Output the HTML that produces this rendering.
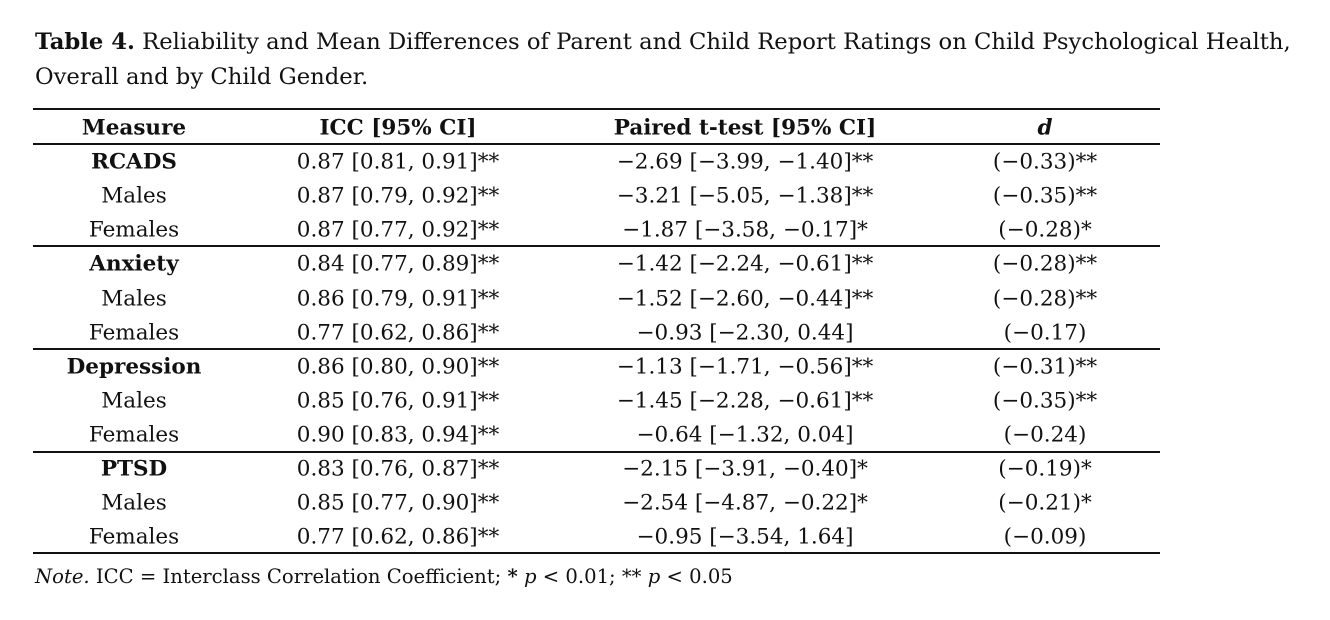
<!DOCTYPE html>
<html><head><meta charset="utf-8"><style>
body{margin:0;width:1330px;height:620px;background:#fff;font-family:"DejaVu Serif","Liberation Serif",serif;color:#111;position:relative;overflow:hidden}
.t{position:absolute;left:35px;font-size:22.7px;white-space:nowrap;line-height:1}
.l{position:absolute;left:33px;width:1127px;height:2px;background:#111}
.c{position:absolute;font-size:21.5px;white-space:nowrap;line-height:1;transform:translate(-50%,-50%)}
b{font-weight:bold}
</style></head><body>
<div class="t" style="top:31px"><b>Table 4.</b> Reliability and Mean Differences of Parent and Child Report Ratings on Child Psychological Health,</div>
<div class="t" style="top:66px">Overall and by Child Gender.</div>
<div class="l" style="top:108px"></div>
<div class="l" style="top:143px"></div>
<div class="l" style="top:245px"></div>
<div class="l" style="top:348px"></div>
<div class="l" style="top:451px"></div>
<div class="l" style="top:552px"></div>
<div class="t" style="top:567px;font-size:19.6px"><i>Note.</i> ICC = Interclass Correlation Coefficient; <b>*</b> <i>p</i> &lt; 0.01; ** <i>p</i> &lt; 0.05</div>
<div id="rows"></div>
<script>
const rows=[
["<b>Measure</b>","<b>ICC [95% CI]</b>","<b>Paired t-test [95% CI]</b>","<b><i>d</i></b>"],
["<b>RCADS</b>","0.87 [0.81, 0.91]**","−2.69 [−3.99, −1.40]**","(−0.33)**"],
["Males","0.87 [0.79, 0.92]**","−3.21 [−5.05, −1.38]**","(−0.35)**"],
["Females","0.87 [0.77, 0.92]**","−1.87 [−3.58, −0.17]*","(−0.28)*"],
["<b>Anxiety</b>","0.84 [0.77, 0.89]**","−1.42 [−2.24, −0.61]**","(−0.28)**"],
["Males","0.86 [0.79, 0.91]**","−1.52 [−2.60, −0.44]**","(−0.28)**"],
["Females","0.77 [0.62, 0.86]**","−0.93 [−2.30, 0.44]","(−0.17)"],
["<b>Depression</b>","0.86 [0.80, 0.90]**","−1.13 [−1.71, −0.56]**","(−0.31)**"],
["Males","0.85 [0.76, 0.91]**","−1.45 [−2.28, −0.61]**","(−0.35)**"],
["Females","0.90 [0.83, 0.94]**","−0.64 [−1.32, 0.04]","(−0.24)"],
["<b>PTSD</b>","0.83 [0.76, 0.87]**","−2.15 [−3.91, −0.40]*","(−0.19)*"],
["Males","0.85 [0.77, 0.90]**","−2.54 [−4.87, −0.22]*","(−0.21)*"],
["Females","0.77 [0.62, 0.86]**","−0.95 [−3.54, 1.64]","(−0.09)"]];
const xs=[134,398,745,1045];let h="";
rows.forEach((r,i)=>{const y=128+i*34.1;r.forEach((s,j)=>{h+=`<div class="c" style="left:${xs[j]}px;top:${y}px">${s}</div>`})});
document.getElementById("rows").innerHTML=h;
</script>
</body></html>
